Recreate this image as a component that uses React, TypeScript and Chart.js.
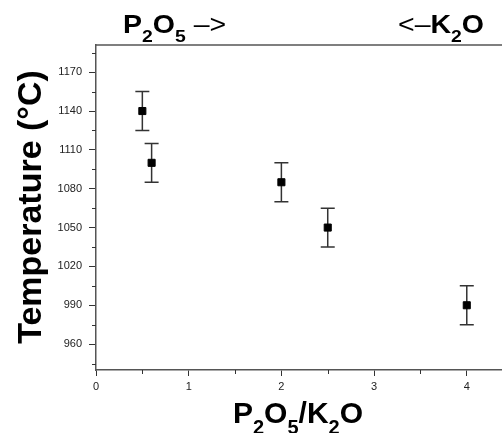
import React, { useEffect, useRef } from "react";
import { Chart, registerables } from "chart.js";

Chart.register(...registerables);

const xValues = [0.5, 0.6, 2, 2.5, 4];
const temperatures = [1140, 1100, 1085, 1050, 990];
const errors = [15, 15, 15, 15, 15];
const xTickValues = [0, 1, 2, 3, 4];
const xMinorTicks = [0.5, 1.5, 2.5, 3.5];
const yTickValues = [960, 990, 1020, 1050, 1080, 1110, 1140, 1170];
const yMinorTicks = [945, 975, 1005, 1035, 1065, 1095, 1125, 1155, 1185];
const yTitle = "Temperature (°C)";
const FONT = '"Liberation Sans", Arial, Helvetica, sans-serif';

type Part = { text: string; size: number; bold?: boolean; dy?: number };

function measureParts(ctx: CanvasRenderingContext2D, parts: Part[]) {
  let w = 0;
  for (const p of parts) {
    ctx.font = `${p.bold ? "bold " : ""}${p.size}px ${FONT}`;
    w += ctx.measureText(p.text).width;
  }
  return w;
}

function drawParts(ctx: CanvasRenderingContext2D, parts: Part[], x: number, y: number, sx = 1) {
  ctx.save();
  ctx.translate(x, y);
  ctx.scale(sx, 1);
  let cx = 0;
  ctx.textAlign = "left";
  ctx.textBaseline = "alphabetic";
  for (const p of parts) {
    ctx.font = `${p.bold ? "bold " : ""}${p.size}px ${FONT}`;
    ctx.fillText(p.text, cx, p.dy || 0);
    cx += ctx.measureText(p.text).width;
  }
  ctx.restore();
}

const decorPlugin = {
  id: "decor",
  beforeDatasetsDraw(chart: any) {
    const ctx = chart.ctx as CanvasRenderingContext2D;
    const xs = chart.scales.x;
    const ys = chart.scales.y;
    ctx.save();
    ctx.strokeStyle = "#333";
    ctx.lineWidth = 1.5;
    xValues.forEach((xv, i) => {
      const px = xs.getPixelForValue(xv);
      const top = ys.getPixelForValue(temperatures[i] + errors[i]);
      const bot = ys.getPixelForValue(temperatures[i] - errors[i]);
      ctx.beginPath();
      ctx.moveTo(px, top);
      ctx.lineTo(px, bot);
      ctx.moveTo(px - 7, top);
      ctx.lineTo(px + 7, top);
      ctx.moveTo(px - 7, bot);
      ctx.lineTo(px + 7, bot);
      ctx.stroke();
    });
    ctx.restore();
  },
  afterDraw(chart: any) {
    const ctx = chart.ctx as CanvasRenderingContext2D;
    const xs = chart.scales.x;
    const ys = chart.scales.y;
    const area = chart.chartArea;
    ctx.save();
    // top border
    ctx.strokeStyle = "#555";
    ctx.lineWidth = 1.5;
    ctx.beginPath();
    ctx.moveTo(area.left, area.top);
    ctx.lineTo(area.right, area.top);
    ctx.stroke();
    // minor ticks
    ctx.strokeStyle = "#333";
    ctx.lineWidth = 1;
    ctx.beginPath();
    yMinorTicks.forEach((v) => {
      const py = Math.round(ys.getPixelForValue(v)) + 0.5;
      ctx.moveTo(area.left, py);
      ctx.lineTo(area.left - 4, py);
    });
    xMinorTicks.forEach((v) => {
      const px = Math.round(xs.getPixelForValue(v)) + 0.5;
      ctx.moveTo(px, area.bottom);
      ctx.lineTo(px, area.bottom + 4);
    });
    ctx.stroke();

    ctx.fillStyle = "#000";
    // top labels
    drawParts(
      ctx,
      [
        { text: "P", size: 25, bold: true },
        { text: "2", size: 17, bold: true, dy: 9 },
        { text: "O", size: 25, bold: true },
        { text: "5", size: 17, bold: true, dy: 9 },
        { text: " –>", size: 25 },
      ],
      123,
      33,
      1.14
    );
    drawParts(
      ctx,
      [
        { text: "<–", size: 25 },
        { text: "K", size: 25, bold: true },
        { text: "2", size: 17, bold: true, dy: 9 },
        { text: "O", size: 25, bold: true },
      ],
      398,
      33,
      1.14
    );
    // x title
    const xParts: Part[] = [
      { text: "P", size: 30, bold: true },
      { text: "2", size: 20, bold: true, dy: 11 },
      { text: "O", size: 30, bold: true },
      { text: "5", size: 20, bold: true, dy: 11 },
      { text: "/K", size: 30, bold: true },
      { text: "2", size: 20, bold: true, dy: 11 },
      { text: "O", size: 30, bold: true },
    ];
    const xw = measureParts(ctx, xParts);
    drawParts(ctx, xParts, 298 - xw / 2, 423);
    // y title
    ctx.translate(41, 207);
    ctx.rotate(-Math.PI / 2);
    ctx.font = `bold 34px ${FONT}`;
    ctx.textAlign = "center";
    ctx.textBaseline = "alphabetic";
    ctx.fillText(yTitle, 0, 0);
    ctx.restore();
  },
};

export default function App() {
  const ref = useRef<HTMLCanvasElement>(null);
  useEffect(() => {
    if (!ref.current) return;
    const chart = new Chart(ref.current, {
      type: "scatter",
      data: {
        datasets: [
          {
            data: xValues.map((x, i) => ({ x, y: temperatures[i] })),
            pointStyle: "rect",
            pointRadius: 5,
            backgroundColor: "#000",
            borderColor: "#000",
            borderWidth: 1,
          },
        ],
      },
      options: {
        responsive: false,
        animation: false,
        devicePixelRatio: 1,
        layout: { padding: { top: 45, left: 0, right: 0, bottom: 0 } },
        plugins: { legend: { display: false }, tooltip: { enabled: false } },
        scales: {
          x: {
            type: "linear",
            min: 0,
            max: 4.38,
            afterBuildTicks: (s: any) => {
              s.ticks = xTickValues.map((v) => ({ value: v }));
            },
            afterFit: (s: any) => {
              s.height = 63;
              s.paddingLeft = 0;
              s.paddingRight = 0;
            },
            grid: { drawOnChartArea: false, drawTicks: true, tickLength: 6, color: "#333", lineWidth: 1 },
            border: { display: true, color: "#555", width: 1.5 },
            ticks: {
              font: { family: FONT, size: 11 },
              color: "#222",
              padding: 4,
              maxRotation: 0,
              autoSkip: false,
              callback: (v: any) => String(v),
            },
          },
          y: {
            type: "linear",
            min: 940,
            max: 1191,
            afterBuildTicks: (s: any) => {
              s.ticks = yTickValues.map((v) => ({ value: v }));
            },
            afterFit: (s: any) => {
              s.width = 96;
              s.paddingTop = 0;
              s.paddingBottom = 0;
            },
            grid: { drawOnChartArea: false, drawTicks: true, tickLength: 7, color: "#333", lineWidth: 1 },
            border: { display: true, color: "#555", width: 1.5 },
            ticks: {
              font: { family: FONT, size: 11 },
              color: "#222",
              padding: 7,
              autoSkip: false,
              callback: (v: any) => String(v),
            },
          },
        },
      },
      plugins: [decorPlugin],
    } as any);
    return () => chart.destroy();
  }, []);
  return (
    <div
      style={{
        position: "absolute",
        left: 0,
        top: 0,
        width: 502,
        height: 433,
        overflow: "hidden",
        background: "#fff",
      }}
    >
      <canvas ref={ref} width={508} height={433} style={{ display: "block" }} />
    </div>
  );
}
